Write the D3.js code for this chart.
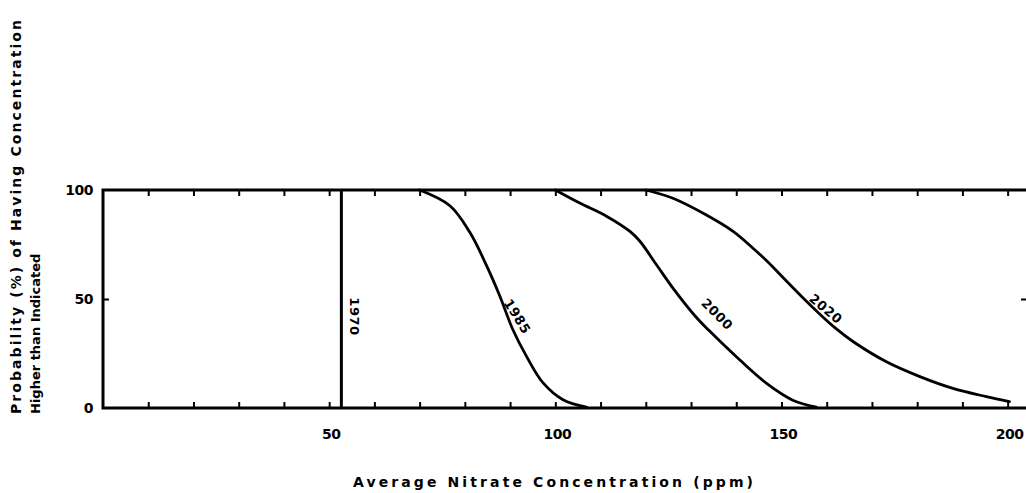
<!DOCTYPE html>
<html><head><meta charset="utf-8">
<script src="https://cdn.jsdelivr.net/npm/d3@7/dist/d3.min.js"></script>
<style>
body{margin:0;background:#fff;}
text{font-family:"DejaVu Sans",sans-serif;font-weight:bold;fill:#000;}
</style></head><body>
<svg id="c" width="1026" height="493"></svg>
<script>
// Data (x: ppm, y: probability %)
const years = ["1970","1985","2000","2020"];
const s1970 = [[52.7,0],[52.7,100]];
const s1985 = [[70,100],[76.7,92.8],[81.1,80.6],[84.8,65.3],[87.7,51.5],[90.6,36],[93.6,23.8],[97.3,11.5],[101.7,3.8],[106.9,0.4]];
const s2000 = [[100,100],[105.4,94],[111.3,88],[116.5,81],[118.7,76.5],[122.4,65.6],[126,55],[131.2,41.5],[134,35.5],[140.8,22],[146.7,11.3],[152.5,3.6],[157.7,0.4]];
const s2020 = [[120,100],[126,96.2],[133.4,88.5],[139.3,81],[143.7,73.3],[147,67],[150.5,59.5],[154.5,51],[158.5,43],[162,36.5],[165.8,30.5],[173.2,21.2],[180.6,14.4],[187.9,9],[195.3,5.2],[200.4,2.9]];
// label anchors [x, y, angle]
const labelPos = [[55.6,42,90],[91.6,42,58],[135.8,43,45],[159.8,45.5,40]];
const xTickLabels = [50,100,150,200];
const yTickLabels = [0,50,100];
const xMinorTicks = d3.range(10,201,10);
const xTitle = "Average Nitrate Concentration (ppm)";
const yTitle1 = "Probability (%) of Having Concentration";
const yTitle2 = "Higher than Indicated";

const svg = d3.select("#c");
const x = d3.scaleLinear().domain([0,204.5]).range([103,1028]);
const y = d3.scaleLinear().domain([0,100]).range([408,190]);

// frame
svg.append("rect").attr("x",x(0)).attr("y",y(100)).attr("width",x(204.5)-x(0)).attr("height",y(0)-y(100))
  .attr("fill","none").attr("stroke","#000").attr("stroke-width",3);

// inward ticks
const gB = svg.append("g").attr("transform",`translate(0,${y(0)})`)
  .call(d3.axisTop(x).tickValues(xMinorTicks).tickSize(6).tickFormat(""));
const gT = svg.append("g").attr("transform",`translate(0,${y(100)})`)
  .call(d3.axisBottom(x).tickValues(xMinorTicks).tickSize(6).tickFormat(""));
const gL = svg.append("g").attr("transform",`translate(${x(0)},0)`)
  .call(d3.axisRight(y).tickValues([50]).tickSize(6).tickFormat(""));
const gR = svg.append("g").attr("transform",`translate(${x(204.5)},0)`)
  .call(d3.axisLeft(y).tickValues([50]).tickSize(7).tickFormat(""));
[gB,gT,gL,gR].forEach(g=>{g.select(".domain").remove();g.selectAll("line").attr("stroke","#000").attr("stroke-width",2);});

// tick labels
svg.append("g").selectAll("text").data(xTickLabels).join("text")
  .attr("x",d=>x(d)+2).attr("y",y(0)+31).attr("text-anchor","middle")
  .attr("font-size",14).attr("letter-spacing",-0.5).text(d=>d);
svg.append("g").selectAll("text").data(yTickLabels).join("text")
  .attr("x",93).attr("y",d=>y(d)+5).attr("text-anchor","end")
  .attr("font-size",14).attr("letter-spacing",-0.5).text(d=>d);

// curves
const line = d3.line().x(d=>x(d[0])).y(d=>y(d[1])).curve(d3.curveCatmullRom.alpha(0.5));
const vline = d3.line().x(d=>x(d[0])).y(d=>y(d[1]));
svg.append("path").attr("d",vline(s1970)).attr("fill","none").attr("stroke","#000").attr("stroke-width",3);
[s1985,s2000,s2020].forEach(s=>{
  svg.append("path").attr("d",line(s)).attr("fill","none").attr("stroke","#000").attr("stroke-width",2.8)
    .attr("stroke-linecap","round");
});

// curve labels
svg.append("g").selectAll("text").data(years).join("text")
  .attr("transform",(d,i)=>`translate(${x(labelPos[i][0])},${y(labelPos[i][1])}) rotate(${labelPos[i][2]})`)
  .attr("text-anchor","middle").attr("dy","0.35em").attr("font-size",13).attr("letter-spacing",0.5)
  .text(d=>d);

// axis titles
svg.append("text").attr("x",353).attr("y",487)
  .attr("font-size",14).attr("textLength",400).attr("lengthAdjust","spacing").text(xTitle);
svg.append("text").attr("transform","translate(21,414) rotate(-90)")
  .attr("font-size",14).attr("textLength",394).attr("lengthAdjust","spacing").text(yTitle1);
svg.append("text").attr("transform","translate(40,414) rotate(-90)")
  .attr("font-size",13).attr("letter-spacing",0).text(yTitle2);
</script>
</body></html>
